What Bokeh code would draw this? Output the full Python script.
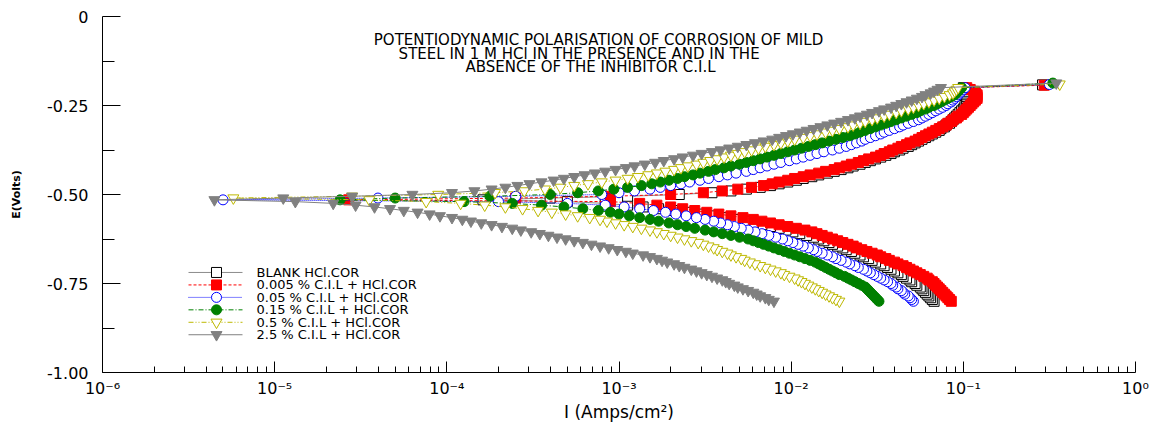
from bokeh.plotting import figure
from bokeh.models import (ColumnDataSource, FixedTicker, CustomJSTickFormatter,
                          Range1d, LinearScale)
from bokeh.core.properties import value
from bokeh.embed import file_html
from bokeh.resources import INLINE

# Scan potentials (V): cathodic part up to the corrosion potential, then anodic part
cathodic_potential_v = [
    -0.800, -0.795, -0.790, -0.785, -0.780, -0.775, -0.770, -0.765, -0.760, -0.755,
    -0.750, -0.745, -0.740, -0.735, -0.730, -0.725, -0.720, -0.715, -0.710, -0.705,
    -0.700, -0.695, -0.690, -0.685, -0.680, -0.675, -0.670, -0.665, -0.660, -0.655,
    -0.650, -0.645, -0.640, -0.635, -0.630, -0.625, -0.620, -0.615, -0.610, -0.605,
    -0.600, -0.595, -0.590, -0.585, -0.580, -0.575, -0.570, -0.565, -0.560, -0.555,
    -0.550, -0.545, -0.540, -0.535, -0.530, -0.525, -0.520, -0.515]
anodic_potential_v = [
    -0.510, -0.505, -0.500, -0.495, -0.490, -0.485, -0.480, -0.475, -0.470, -0.465,
    -0.460, -0.455, -0.450, -0.445, -0.440, -0.435, -0.430, -0.425, -0.420, -0.415,
    -0.410, -0.405, -0.400, -0.395, -0.390, -0.385, -0.380, -0.375, -0.370, -0.365,
    -0.360, -0.355, -0.350, -0.345, -0.340, -0.335, -0.330, -0.325, -0.320, -0.315,
    -0.310, -0.305, -0.300, -0.295, -0.290, -0.285, -0.280, -0.275, -0.270, -0.265,
    -0.260, -0.255, -0.250, -0.245, -0.240, -0.235, -0.230, -0.225, -0.220, -0.215,
    -0.210, -0.205, -0.200]

# log10 of the current density (A/cm2) read at each scan potential
blank_cathodic_log_i = [
    -1.17, -1.18, -1.19, -1.20, -1.21, -1.22, -1.23, -1.24, -1.25, -1.27,
    -1.28, -1.30, -1.31, -1.33, -1.35, -1.36, -1.38, -1.40, -1.42, -1.44,
    -1.46, -1.48, -1.51, -1.53, -1.55, -1.58, -1.60, -1.63, -1.65, -1.68,
    -1.70, -1.73, -1.76, -1.78, -1.81, -1.84, -1.87, -1.91, -1.95, -1.99,
    -2.03, -2.07, -2.12, -2.17, -2.22, -2.27, -2.33, -2.39, -2.46, -2.53,
    -2.61, -2.69, -2.77, -2.86, -2.95, -3.08, -3.30, -3.79]
blank_anodic_log_i = [
    -3.40, -2.95, -2.65, -2.46, -2.35, -2.26, -2.18, -2.12, -2.07, -2.02,
    -1.97, -1.93, -1.88, -1.84, -1.79, -1.75, -1.71, -1.67, -1.64, -1.60,
    -1.57, -1.54, -1.51, -1.48, -1.45, -1.42, -1.40, -1.37, -1.35, -1.32,
    -1.30, -1.28, -1.26, -1.24, -1.22, -1.20, -1.18, -1.16, -1.14, -1.13,
    -1.11, -1.10, -1.08, -1.07, -1.06, -1.05, -1.04, -1.03, -1.02, -1.01,
    -1.00, -0.99, -0.99, -0.98, -0.98, -0.98, -0.98, -0.98, -0.98, -0.99,
    -0.99, -1.00, -1.00]

cil_0005_cathodic_log_i = [
    -1.07, -1.08, -1.09, -1.10, -1.11, -1.12, -1.13, -1.14, -1.15, -1.16,
    -1.17, -1.18, -1.20, -1.21, -1.23, -1.25, -1.27, -1.29, -1.31, -1.33,
    -1.35, -1.38, -1.40, -1.43, -1.45, -1.48, -1.50, -1.53, -1.56, -1.59,
    -1.62, -1.64, -1.67, -1.70, -1.73, -1.76, -1.79, -1.82, -1.85, -1.88,
    -1.92, -1.97, -2.02, -2.07, -2.12, -2.17, -2.22, -2.28, -2.35, -2.42,
    -2.49, -2.56, -2.63, -2.70, -2.78, -2.88, -3.05, -4.57]
cil_0005_anodic_log_i = [
    -3.60, -3.05, -2.70, -2.51, -2.40, -2.31, -2.23, -2.16, -2.11, -2.07,
    -2.02, -1.98, -1.93, -1.89, -1.84, -1.80, -1.75, -1.72, -1.68, -1.65,
    -1.61, -1.58, -1.55, -1.51, -1.48, -1.46, -1.43, -1.41, -1.38, -1.36,
    -1.33, -1.31, -1.28, -1.26, -1.24, -1.22, -1.20, -1.18, -1.16, -1.14,
    -1.12, -1.10, -1.09, -1.07, -1.06, -1.04, -1.03, -1.01, -1.00, -0.99,
    -0.98, -0.97, -0.96, -0.95, -0.94, -0.93, -0.92, -0.92, -0.92, -0.93,
    -0.94, -0.96, -0.98]

cil_005_cathodic_log_i = [
    -1.29, -1.30, -1.31, -1.32, -1.34, -1.35, -1.36, -1.38, -1.39, -1.41,
    -1.42, -1.44, -1.46, -1.48, -1.50, -1.52, -1.54, -1.56, -1.58, -1.61,
    -1.63, -1.66, -1.68, -1.71, -1.74, -1.76, -1.79, -1.82, -1.85, -1.87,
    -1.90, -1.93, -1.96, -1.99, -2.02, -2.05, -2.09, -2.13, -2.17, -2.21,
    -2.25, -2.29, -2.33, -2.37, -2.41, -2.45, -2.50, -2.55, -2.61, -2.67,
    -2.73, -2.80, -2.88, -2.97, -3.08, -3.30, -3.70, -5.30]
cil_005_anodic_log_i = [
    -4.40, -3.60, -3.10, -3.00, -2.91, -2.82, -2.76, -2.70, -2.64, -2.59,
    -2.53, -2.48, -2.42, -2.37, -2.32, -2.26, -2.22, -2.18, -2.14, -2.10,
    -2.06, -2.01, -1.97, -1.93, -1.89, -1.85, -1.81, -1.76, -1.72, -1.68,
    -1.65, -1.62, -1.59, -1.57, -1.54, -1.51, -1.48, -1.46, -1.43, -1.40,
    -1.37, -1.35, -1.32, -1.29, -1.26, -1.24, -1.22, -1.20, -1.18, -1.16,
    -1.14, -1.12, -1.10, -1.09, -1.07, -1.06, -1.05, -1.04, -1.03, -1.02,
    -1.01, -1.00, -0.99]

cil_015_cathodic_log_i = [
    -1.49, -1.50, -1.51, -1.52, -1.53, -1.54, -1.55, -1.56, -1.57, -1.59,
    -1.61, -1.63, -1.65, -1.67, -1.69, -1.72, -1.74, -1.76, -1.78, -1.80,
    -1.82, -1.84, -1.86, -1.89, -1.92, -1.95, -1.98, -2.01, -2.04, -2.07,
    -2.10, -2.13, -2.16, -2.19, -2.22, -2.25, -2.30, -2.35, -2.40, -2.45,
    -2.50, -2.56, -2.61, -2.66, -2.71, -2.77, -2.82, -2.88, -2.94, -3.00,
    -3.05, -3.12, -3.21, -3.32, -3.45, -3.62, -3.90, -4.62]
cil_015_anodic_log_i = [
    -4.30, -3.75, -3.40, -3.24, -3.12, -3.03, -2.95, -2.87, -2.81, -2.76,
    -2.71, -2.66, -2.62, -2.57, -2.53, -2.48, -2.44, -2.39, -2.35, -2.30,
    -2.26, -2.22, -2.18, -2.14, -2.10, -2.06, -2.02, -1.98, -1.94, -1.90,
    -1.86, -1.82, -1.78, -1.74, -1.70, -1.66, -1.63, -1.60, -1.57, -1.54,
    -1.51, -1.48, -1.45, -1.42, -1.39, -1.36, -1.33, -1.30, -1.27, -1.25,
    -1.22, -1.20, -1.17, -1.15, -1.13, -1.11, -1.09, -1.07, -1.05, -1.04,
    -1.03, -1.02, -1.01]

cil_05_cathodic_log_i = [
    -1.72, -1.74, -1.76, -1.78, -1.80, -1.82, -1.84, -1.86, -1.88, -1.90,
    -1.92, -1.94, -1.96, -1.98, -2.01, -2.04, -2.06, -2.09, -2.12, -2.15,
    -2.18, -2.21, -2.24, -2.27, -2.29, -2.32, -2.35, -2.37, -2.40, -2.43,
    -2.45, -2.48, -2.51, -2.54, -2.58, -2.62, -2.66, -2.70, -2.74, -2.78,
    -2.82, -2.87, -2.92, -2.97, -3.02, -3.07, -3.11, -3.17, -3.24, -3.31,
    -3.39, -3.47, -3.56, -3.66, -3.78, -3.92, -4.12, -4.45]
cil_05_anodic_log_i = [
    -5.24, -4.55, -4.05, -3.72, -3.55, -3.43, -3.34, -3.26, -3.18, -3.10,
    -3.02, -2.95, -2.89, -2.83, -2.78, -2.73, -2.68, -2.64, -2.60, -2.55,
    -2.51, -2.47, -2.43, -2.39, -2.35, -2.31, -2.27, -2.23, -2.19, -2.15,
    -2.10, -2.06, -2.02, -1.98, -1.93, -1.89, -1.85, -1.80, -1.76, -1.72,
    -1.67, -1.64, -1.60, -1.57, -1.53, -1.50, -1.46, -1.43, -1.39, -1.36,
    -1.32, -1.29, -1.26, -1.23, -1.20, -1.17, -1.14, -1.11, -1.08, -1.06,
    -1.05, -1.04, -1.03]

cil_25_cathodic_log_i = [
    -2.10, -2.13, -2.15, -2.18, -2.20, -2.22, -2.25, -2.28, -2.31, -2.33,
    -2.36, -2.38, -2.40, -2.43, -2.46, -2.49, -2.52, -2.55, -2.58, -2.62,
    -2.65, -2.68, -2.72, -2.75, -2.78, -2.82, -2.86, -2.92, -2.96, -3.01,
    -3.06, -3.11, -3.16, -3.21, -3.26, -3.31, -3.36, -3.41, -3.46, -3.51,
    -3.57, -3.62, -3.68, -3.74, -3.80, -3.86, -3.91, -3.97, -4.04, -4.10,
    -4.17, -4.25, -4.33, -4.42, -4.53, -4.66, -4.88, -5.35]
cil_25_anodic_log_i = [
    -4.95, -4.55, -4.20, -3.97, -3.84, -3.74, -3.66, -3.59, -3.52, -3.45,
    -3.38, -3.32, -3.26, -3.20, -3.14, -3.08, -3.02, -2.96, -2.91, -2.85,
    -2.79, -2.74, -2.68, -2.63, -2.57, -2.52, -2.46, -2.41, -2.36, -2.31,
    -2.26, -2.21, -2.16, -2.11, -2.07, -2.03, -1.99, -1.95, -1.91, -1.87,
    -1.83, -1.79, -1.75, -1.71, -1.67, -1.63, -1.60, -1.56, -1.53, -1.49,
    -1.46, -1.42, -1.39, -1.36, -1.33, -1.30, -1.27, -1.24, -1.22, -1.19,
    -1.17, -1.15, -1.13]

# last recorded point of each scan, in legend order
end_potential_v = [-0.192, -0.193, -0.191, -0.187, -0.190, -0.187]
end_log_i = [-0.54, -0.53, -0.50, -0.48, -0.44, -0.46]

legend_labels = [
    "BLANK HCl.COR",
    "0.005 % C.I.L + HCl.COR",
    "0.05 % C.I.L + HCl.COR",
    "0.15 %  C.I.L + HCl.COR",
    "0.5 % C.I.L + HCl.COR",
    "2.5 %  C.I.L + HCl.COR",
]

title_lines = [
    "POTENTIODYNAMIC POLARISATION OF CORROSION OF MILD",
    "STEEL IN 1 M HCl  IN THE PRESENCE AND IN THE",
    "ABSENCE OF THE INHIBITOR C.I.L",
]

series_log_i = [
    (blank_cathodic_log_i, blank_anodic_log_i),
    (cil_0005_cathodic_log_i, cil_0005_anodic_log_i),
    (cil_005_cathodic_log_i, cil_005_anodic_log_i),
    (cil_015_cathodic_log_i, cil_015_anodic_log_i),
    (cil_05_cathodic_log_i, cil_05_anodic_log_i),
    (cil_25_cathodic_log_i, cil_25_anodic_log_i),
]

# marker, marker outline, marker fill, connecting line colour, line dash, marker size
styles = [
    ("square", "black", "white", "#8c8c8c", "solid", 10),
    ("square", "#ff0000", "#ff0000", "#ff0000", "3 2", 10),
    ("circle", "#0000ff", "white", "#0000ff", "1 1", 10),
    ("circle", "#008000", "#008000", "#008000", "5 2 1 2", 10),
    ("inverted_triangle", "#bdb800", "white", "#bdb800", "5 2 1 2 1 2", 11),
    ("inverted_triangle", "#808080", "#808080", "#808080", "solid", 11),
]

FONT = "DejaVu Sans"

# frame occupies x 102..1135 and y 16..379 of the canvas
FRAME_L, FRAME_R, FRAME_T, FRAME_B = 102, 1135, 16, 379

p = figure(width=1163, height=424, x_axis_type="log",
           x_range=(1e-6, 1), y_range=(-1.0, 0.0),
           output_backend="svg", toolbar_location=None,
           min_border_left=FRAME_L, min_border_right=1163 - FRAME_R,
           min_border_top=FRAME_T, min_border_bottom=424 - FRAME_B)
p.outline_line_color = None
p.grid.visible = False
p.background_fill_color = "white"

# pixel-like coordinate space for the heading and the key (y grows downwards)
p.extra_x_ranges = {"px": Range1d(FRAME_L, FRAME_R)}
p.extra_y_ranges = {"px": Range1d(FRAME_B, FRAME_T)}
p.extra_x_scales = {"px": LinearScale()}
p.extra_y_scales = {"px": LinearScale()}
px = dict(x_range_name="px", y_range_name="px")

for (cat, ano), e_end, l_end, style in zip(series_log_i, end_potential_v,
                                            end_log_i, styles):
    marker, edge, fill, line_col, dash, size = style
    potential = cathodic_potential_v + anodic_potential_v + [e_end]
    log_i = cat + ano + [l_end]
    current = [10.0 ** v for v in log_i]
    src = ColumnDataSource(dict(i=current, e=potential))
    p.line("i", "e", source=src, line_color=line_col, line_width=1,
           line_dash=dash)
    p.scatter("i", "e", source=src, marker=marker, size=size,
              line_color=edge, fill_color=fill, line_width=1)

# key: sample line with its marker, then the label
KEY_X0, KEY_X1, KEY_MARK_X, KEY_TEXT_X = 188, 242, 216, 256
KEY_TOP, KEY_STEP = 277, 12.7
for k, (label, style) in enumerate(zip(legend_labels, styles)):
    marker, edge, fill, line_col, dash, size = style
    ry = KEY_TOP + k * KEY_STEP
    p.segment(x0=[KEY_X0], y0=[ry], x1=[KEY_X1], y1=[ry], line_color=line_col,
              line_width=1, line_dash=dash, **px)
    p.scatter(x=[KEY_MARK_X], y=[ry], marker=marker, size=size,
              line_color=edge, fill_color=fill, line_width=1, **px)
    p.text(x=[KEY_TEXT_X], y=[ry], text=[label], text_font=value(FONT),
           text_font_size="13px", text_baseline="middle", text_align="left",
           text_color="black", **px)

# three-line heading inside the frame
for text, cx, cy in zip(title_lines, [598, 581, 590], [40, 54, 68]):
    p.text(x=[cx], y=[cy], text=[text], text_font=value(FONT),
           text_font_size="15px", text_baseline="middle", text_align="center",
           text_color="black", **px)

# axes
p.xaxis.ticker = FixedTicker(
    ticks=[1e-6, 1e-5, 1e-4, 1e-3, 1e-2, 1e-1, 1.0],
    minor_ticks=[m * 10.0 ** k for k in range(-6, 0) for m in range(2, 10)])
p.xaxis.formatter = CustomJSTickFormatter(code="""
    const sup = {'-': '\u207b', '0': '\u2070', '1': '\u00b9', '2': '\u00b2',
                 '3': '\u00b3', '4': '\u2074', '5': '\u2075', '6': '\u2076',
                 '7': '\u2077', '8': '\u2078', '9': '\u2079'};
    const e = Math.round(Math.log10(tick));
    return '10' + String(e).split('').map(c => sup[c]).join('');
""")
p.yaxis.ticker = FixedTicker(ticks=[-1.0, -0.75, -0.5, -0.25, 0.0],
                             minor_ticks=[-0.875, -0.625, -0.375, -0.125])
p.yaxis.major_label_overrides = {0.0: "0", -0.25: "-0.25", -0.5: "-0.50",
                                 -0.75: "-0.75", -1.0: "-1.00"}

for ax in (p.xaxis[0], p.yaxis[0]):
    ax.axis_line_color = "black"
    ax.major_tick_line_color = "black"
    ax.minor_tick_line_color = "black"
    ax.major_tick_out = 0
    ax.minor_tick_out = 0
    ax.major_label_text_font = FONT
    ax.major_label_text_color = "black"
    ax.axis_label_text_font = FONT
    ax.axis_label_text_font_style = "normal"
    ax.axis_label_text_color = "black"

p.xaxis.major_tick_in = 11
p.xaxis.minor_tick_in = 6
p.xaxis.major_label_text_font_size = "16px"
p.xaxis.major_label_standoff = 6
p.xaxis.axis_label = "I (Amps/cm\u00b2)"
p.xaxis.axis_label_text_font_size = "17px"
p.xaxis.axis_label_standoff = 1

p.yaxis.major_tick_in = 18
p.yaxis.minor_tick_in = 12
p.yaxis.major_label_text_font_size = "16px"
p.yaxis.major_label_standoff = 14
p.yaxis.axis_label = "E(Volts)"
p.yaxis.axis_label_text_font_size = "11px"
p.yaxis.axis_label_text_font_style = "bold"
p.yaxis.axis_label_standoff = 21

open("out.html", "w").write(file_html(p, INLINE))
